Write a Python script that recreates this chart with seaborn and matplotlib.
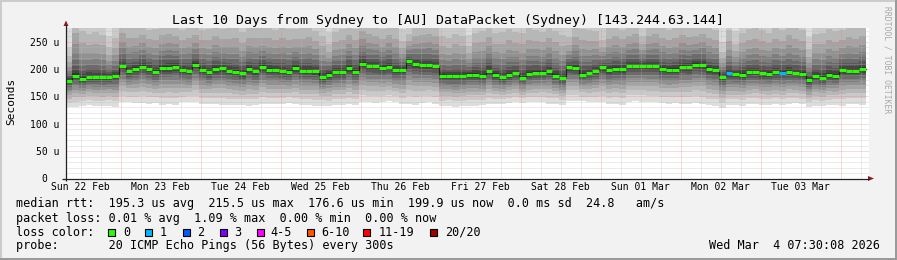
import numpy as np
import matplotlib
matplotlib.use("Agg")
import matplotlib.pyplot as plt
from matplotlib.patches import Rectangle, Polygon
import seaborn as sns

sns.set_theme(style="white")
plt.rcParams['font.family'] = ['DejaVu Sans Mono', 'DejaVu Sans']
plt.rcParams['text.color'] = 'black'
plt.rcParams['xtick.color'] = 'black'
plt.rcParams['ytick.color'] = 'black'

# ---------------- data (2-hour consolidation, 10 days) ----------------
STEP_H = 2
median = [179, 188, 182, 186, 185, 185, 186, 187, 205, 196, 200, 204, 200, 195, 202, 202, 204, 198, 196, 208,
          198, 194, 200, 201, 197, 195, 192, 200, 196, 204,
          199, 198, 196, 195, 202, 197, 197, 196, 186, 190, 194, 194, 202, 195, 210, 205, 205, 202, 204, 198,
          199, 214, 209, 207, 207, 205, 188, 187, 187, 187,
          190, 190, 188, 197, 189, 185, 189, 192, 184, 191, 193, 193, 196, 188, 183, 203, 202, 190, 192, 196,
          203, 198, 200, 200, 205, 205, 206, 205, 205, 200,
          199, 199, 204, 203, 208, 207, 200, 198, 186, 192, 191, 190, 194, 194, 192, 191, 194, 193, 194, 192,
          191, 180, 187, 184, 190, 188, 198, 197, 197, 200]
smoke_lo = [130, 130, 133, 134, 133, 132, 133, 131, 139, 139, 138, 138, 137, 138, 135, 136, 134, 139, 140, 139,
            137, 137, 136, 135, 135, 134, 134, 133, 134, 136,
            136, 137, 137, 138, 136, 134, 134, 133, 133, 132, 134, 135, 136, 135, 139, 139, 138, 140, 141, 140,
            136, 137, 135, 138, 139, 137, 132, 133, 131, 132,
            133, 133, 134, 136, 136, 137, 138, 139, 138, 139, 139, 140, 136, 137, 135, 141, 142, 141, 139, 139,
            140, 136, 137, 135, 140, 141, 140, 139, 139, 138,
            137, 138, 136, 137, 138, 137, 134, 133, 128, 134, 135, 133, 136, 137, 135, 135, 136, 134, 137, 138,
            136, 131, 133, 132, 134, 135, 133, 136, 137, 135]
smoke_hi = [290, 450, 400, 380, 390, 380, 320, 360, 410, 400, 390, 400, 380, 390, 400, 410, 390, 380, 400, 390,
            380, 390, 400, 380, 390, 400, 380, 390, 400, 380,
            390, 380, 400, 390, 380, 390, 400, 380, 370, 330, 380, 390, 400, 390, 410, 400, 390, 380, 400, 390,
            330, 340, 380, 390, 400, 390, 370, 360, 380, 370,
            320, 380, 390, 400, 380, 390, 400, 380, 390, 400, 390, 380, 400, 390, 380, 340, 390, 400, 390, 380,
            330, 390, 400, 380, 390, 400, 340, 390, 400, 390,
            380, 390, 400, 390, 380, 400, 390, 380, 300, 390, 330, 380, 390, 400, 390, 380, 400, 390, 420, 400,
            390, 320, 380, 390, 400, 390, 380, 400, 390, 400]
loss = [0] * 120
loss[99] = 1
loss[107] = 1

day_labels = ["Sun 22 Feb", "Mon 23 Feb", "Tue 24 Feb", "Wed 25 Feb", "Thu 26 Feb",
              "Fri 27 Feb", "Sat 28 Feb", "Sun 01 Mar", "Mon 02 Mar", "Tue 03 Mar"]
y_ticks = [0, 50, 100, 150, 200, 250]
y_tick_labels = ["0", "50 u", "100 u", "150 u", "200 u", "250 u"]
title = "Last 10 Days from Sydney to [AU] DataPacket (Sydney) [143.244.63.144]"
legend_lines = [
    "median rtt:  195.3 us avg  215.5 us max  176.6 us min  199.9 us now  0.0 ms sd  24.8   am/s",
    "packet loss: 0.01 % avg  1.09 % max  0.00 % min  0.00 % now",
    "loss color:",
    "probe:       20 ICMP Echo Pings (56 Bytes) every 300s",
]
loss_buckets = ["0", "1", "2", "3", "4-5", "6-10", "11-19", "20/20"]
loss_colors = ['#26ff00', '#00b8ff', '#0059ff', '#7e00ff', '#ff00ff', '#ff5500', '#ff0000', '#a10000']
timestamp = "Wed Mar  4 07:30:08 2026"

# smoke shape (relative rank positions of the 20 pings)
lower_frac = [1.0, 0.82, 0.67, 0.55, 0.44, 0.34, 0.25, 0.17, 0.10, 0.04]
upper_frac = [0.015, 0.04, 0.07, 0.11, 0.16, 0.22, 0.30, 0.40, 0.56, 1.0]

# ---------------- figure ----------------
W, H = 897, 260
fig = plt.figure(figsize=(W / 100, H / 100), dpi=100, facecolor='#f2f2f2')
AX_L, AX_R, AX_T, AX_B = 65.5, 869.0, 28.0, 178.5
ax = fig.add_axes([AX_L / W, 1 - AX_B / H, (AX_R - AX_L) / W, (AX_B - AX_T) / H])
ax.set_facecolor('white')
PX_PER_H = 800 / 240.0
ax.set_xlim(0, (AX_R - AX_L) / PX_PER_H)
ax.set_ylim(0, 275)
for s in ax.spines.values():
    s.set_visible(False)
ax.grid(False)

med = np.array(median, float)
lo = np.array(smoke_lo, float)
hi = np.array(smoke_hi, float)
n = len(med)
xe = np.arange(n + 1) * STEP_H


def ext(a):
    return np.append(a, a[-1])


pings = [med - (med - lo) * f for f in lower_frac] + [med + (hi - med) * f for f in upper_frac]
half = 10
for k in range(1, half + 1):
    g = int(190 / half * (half - k)) + 50
    col = '#%02x%02x%02x' % (g, g, g)
    ax.fill_between(xe, ext(pings[k - 1]), ext(pings[20 - k]), step='post',
                    color=col, linewidth=0, zorder=1)

# grid
minor_c = (0.72, 0.72, 0.72, 0.55)
major_c = (1.0, 0.45, 0.45, 0.55)
for h in np.arange(4.5, 241, 6):
    is_major = abs(((h - 16.5) % 24)) < 1e-6
    ax.axvline(h, color=major_c if is_major else minor_c, lw=0.72,
               linestyle=(0, (1, 1)), zorder=2)
for v in range(10, 276, 10):
    ax.axhline(v, color=major_c if v % 50 == 0 else minor_c, lw=0.72,
               linestyle=(0, (1, 1)), zorder=2)

# median
sns.lineplot(x=xe, y=ext(med), drawstyle='steps-post', color='#202020', lw=0.8,
             ax=ax, zorder=4, estimator=None)


def loss_color(l):
    if l == 0:
        return loss_colors[0]
    if l == 1:
        return loss_colors[1]
    if l == 2:
        return loss_colors[2]
    if l == 3:
        return loss_colors[3]
    if l <= 5:
        return loss_colors[4]
    if l <= 10:
        return loss_colors[5]
    if l <= 19:
        return loss_colors[6]
    return loss_colors[7]


ax.hlines(med, xe[:-1], xe[1:], colors=[loss_color(l) for l in loss], lw=2.2, zorder=5)

# ticks (the bare "0" label is aligned with the number column, drawn below)
ax.set_yticks(y_ticks)
ax.set_yticklabels([""] + y_tick_labels[1:])
ax.set_xticks([4.5 + 24 * i for i in range(len(day_labels))])
ax.set_xticklabels(day_labels)
ax.tick_params(axis='y', length=0, pad=4.5, labelsize=7)
ax.tick_params(axis='x', length=0, pad=2.5, labelsize=7)
ax.set_xlabel('')
ax.set_ylabel('')

# ---------------- overlay (pixel coordinates) ----------------
ov = fig.add_axes([0, 0, 1, 1], zorder=10)
ov.set_xlim(0, W)
ov.set_ylim(H, 0)
ov.axis('off')
ov.patch.set_alpha(0)

# frame
ov.add_patch(Rectangle((0, 0), W, 2, color='#cccccc', lw=0))
ov.add_patch(Rectangle((0, 0), 2, H, color='#cccccc', lw=0))
ov.add_patch(Rectangle((0, H - 2), W, 2, color='#9a9a9a', lw=0))
ov.add_patch(Rectangle((W - 2, 0), 2, H, color='#9a9a9a', lw=0))

# axes lines and arrows
axc = '#222222'
arc = '#8b1a1a'
ov.plot([66, 66], [181, 25], color=axc, lw=0.9, solid_capstyle='butt')
ov.plot([62, 869], [178.5, 178.5], color=axc, lw=0.9, solid_capstyle='butt')
ov.add_patch(Polygon([[63.5, 26], [68.5, 26], [66, 20.5]], closed=True, color=arc, lw=0))
ov.add_patch(Polygon([[868, 176], [868, 181], [874, 178.5]], closed=True, color=arc, lw=0))

# zero label of the y axis
ov.text(47.5, 181.5, y_tick_labels[0], ha='right', va='baseline', fontsize=7)

# texts
ov.text(448, 24, title, ha='center', va='baseline', fontsize=9.5)
ov.text(11, 101, "Seconds", ha='center', va='center', rotation=90, fontsize=8)
ov.text(886.5, 60, "RRDTOOL / TOBI OETIKER", ha='center', va='center', rotation=-90,
        fontsize=5.8, color='#a8a8a8')

baselines = [207.3, 221.7, 235.7, 249.3]
for line, yb in zip(legend_lines, baselines):
    ov.text(16, yb, line, ha='left', va='baseline', fontsize=8.5)
ov.text(880, 249.3, timestamp, ha='right', va='baseline', fontsize=8.5)

box_x = [108.3, 145, 183.3, 220, 256.7, 307.3, 363.3, 430]
lab_x = [123.3, 160, 197.3, 234.3, 270.7, 321.7, 378.3, 445]
for bx, lx, lab, c in zip(box_x, lab_x, loss_buckets, loss_colors):
    ov.add_patch(Rectangle((bx, 228.5), 7, 7, facecolor=c, edgecolor='black', lw=0.8))
    ov.text(lx, 235.7, lab, ha='left', va='baseline', fontsize=8.5)

fig.savefig('out.png', dpi=100, facecolor=fig.get_facecolor())
